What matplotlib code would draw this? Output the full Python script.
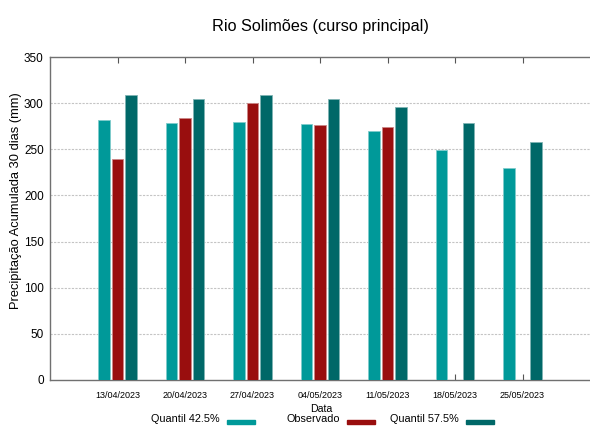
import matplotlib
matplotlib.use("Agg")
import matplotlib.pyplot as plt
import numpy as np
from matplotlib.patches import Rectangle

plt.rcParams['font.family'] = ['Liberation Sans', 'DejaVu Sans']

dates = ["13/04/2023", "20/04/2023", "27/04/2023", "04/05/2023", "11/05/2023", "18/05/2023", "25/05/2023"]
q425 = [282, 279, 280, 277, 270, 249, 230]
observado = [240, 284, 300, 276, 274, np.nan, np.nan]
q575 = [309, 305, 309, 304, 296, 278, 258]
series_labels = ["Quantil 42.5%", "Observado", "Quantil 57.5%"]
colors = ["#009999", "#990e0e", "#006868"]
edges = ["#80cccc", "#cc8787", "#80b4b4"]

fig = plt.figure(figsize=(5.9, 4.26), dpi=100)
ax = fig.add_axes([50/590, 46/426, 1 - 50/590, (380-57)/426])

x = np.arange(len(dates))
off = 0.2
w = 0.165
for i, (vals, c, e) in enumerate(zip([q425, observado, q575], colors, edges)):
    ax.bar(x + (i - 1) * off, vals, width=w, color=c, edgecolor=e, linewidth=0.6, zorder=3)

ax.set_xlim(-1, 7)
ax.set_ylim(0, 350)
ax.set_yticks(np.arange(0, 351, 50))
ax.set_xticks(x)
ax.set_xticklabels(dates, fontsize=6.5)
ax.tick_params(axis='y', labelsize=8.5, direction='in', length=0, pad=4.5)
ax.tick_params(axis='x', direction='in', length=4, pad=8, color='#555555', top=True)
for yv in range(50, 301, 50):
    ax.axhline(yv, color='#c4c4c4', linestyle=(0, (2, 1.2)), linewidth=0.8, zorder=1)

for s in ['top', 'bottom', 'left']:
    ax.spines[s].set_color('#707070')
    ax.spines[s].set_linewidth(1.0)
ax.spines['right'].set_visible(False)

fig.text(16/590, 1 - 201/426, "Precipitação Acumulada 30 dias (mm)", rotation=90,
         ha='center', va='center', fontsize=9.3)
fig.text(320/590, 1 - 27/426, "Rio Solimões (curso principal)", ha='center', va='center', fontsize=11.7)
fig.text(321/590, 1 - 409/426, "Data", ha='center', va='center', fontsize=7.6)

# legend (gnuplot style: text then swatch)
text_ends = [220, 340, 459]
for lbl, c, te in zip(series_labels, colors, text_ends):
    fig.text(te/590, 1 - 419.5/426, lbl, ha='right', va='center', fontsize=7.8)
    fig.patches.append(Rectangle(((te + 7)/590, 1 - 424/426), 28/590, 4.5/426,
                                 transform=fig.transFigure, color=c, figure=fig))

fig.savefig("out.png", dpi=100)
